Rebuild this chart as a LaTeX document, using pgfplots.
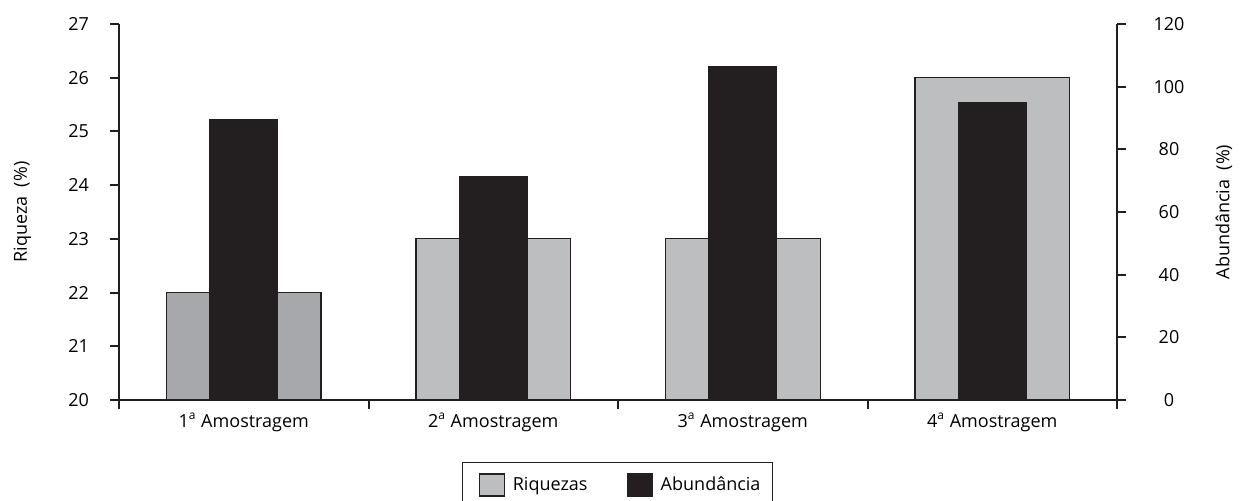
\documentclass[border=0pt]{standalone}
\usepackage{fontspec}
\setmainfont{Open Sans}
\usepackage{pgfplots}
\pgfplotsset{compat=1.18}
\definecolor{gA}{HTML}{A7A8AB}
\definecolor{gB}{HTML}{BCBEC0}
\definecolor{bk}{HTML}{231F20}
\newcommand{\am}[1]{#1\textsuperscript{a}~Amostragem}
\pgfplotsset{
  every axis/.append style={font=\fontsize{9pt}{11pt}\selectfont},
  /pgf/number format/assume math mode=true,
  sqlegend/.style={legend image code/.code={\path (-4pt,0pt); \draw[##1] (0pt,-5.5pt) rectangle (12.5pt,5.5pt);}},
}
\begin{document}
\begin{tikzpicture}
\useasboundingbox (-59.5pt,-50pt) rectangle (561pt,200pt);
\begin{axis}[
  at={(0pt,0pt)}, anchor=south west,
  scale only axis, width=499pt, height=188pt,
  xmin=-0.5, xmax=3.5, ymin=20, ymax=27,
  axis x line*=bottom, axis y line*=left,
  axis line style={line width=1pt, draw=bk},
  tick style={line width=1pt, draw=bk},
  tick align=outside, major tick length=4.5pt,
  ytick={20,21,...,27},
  y tick label style={xshift=-7pt},
  xtick={-0.5,0.5,1.5,2.5,3.5}, xticklabels={},
  extra x ticks={0,1,2,3},
  extra x tick labels={\am{1},\am{2},\am{3},\am{4}},
  extra x tick style={major tick length=0pt, tick style={draw=none}},
  x tick label style={yshift=-3pt},
  ylabel={Riqueza\ \ (\%)},
  every axis y label/.style={at={(axis description cs:-0.0967,0.5)}, rotate=90, anchor=center},
  ybar, bar width=0.62,
]
\addplot[bar shift=0pt, fill=gA, draw=bk, line width=0.6pt] coordinates {(0,22)};
\addplot[bar shift=0pt, fill=gB, draw=bk, line width=0.6pt] coordinates {(1,23) (2,23) (3,26)};
\end{axis}
\begin{axis}[
  at={(0pt,0pt)}, anchor=south west,
  scale only axis, width=499pt, height=188pt,
  xmin=-0.5, xmax=3.5, ymin=0, ymax=120,
  axis x line=none, axis y line*=right,
  axis line style={line width=1pt, draw=bk},
  tick style={line width=1pt, draw=bk},
  tick align=outside, major tick length=4.5pt,
  ytick={0,20,...,120},
  y tick label style={anchor=center, xshift=21.5pt},
  ylabel={Abundância\ \ (\%)},
  every axis y label/.style={at={(axis description cs:1.1072,0.5)}, rotate=90, anchor=center},
  ybar, bar width=0.27,
  legend columns=2,
  legend style={at={(axis description cs:0.3437,-0.1649)}, anchor=north west,
    draw=bk, line width=0.6pt, inner xsep=4pt, inner ysep=5pt,
    /tikz/column sep=0pt,
    /tikz/every odd column/.append style={column sep=2pt},
    /tikz/every even column/.append style={column sep=13.5pt},
    font=\fontsize{9pt}{11pt}\selectfont},
  legend cell align=left,
]
\addlegendimage{fill=gB, draw=bk, line width=0.6pt, sqlegend}
\addlegendentry{Riquezas}
\addplot[bar shift=0pt, fill=bk, draw=bk, line width=0.6pt, sqlegend]
  coordinates {(0,89.4) (1,71.3) (2,106.4) (3,94.9)};
\addlegendentry{Abundância}
\end{axis}
\end{tikzpicture}
\end{document}
